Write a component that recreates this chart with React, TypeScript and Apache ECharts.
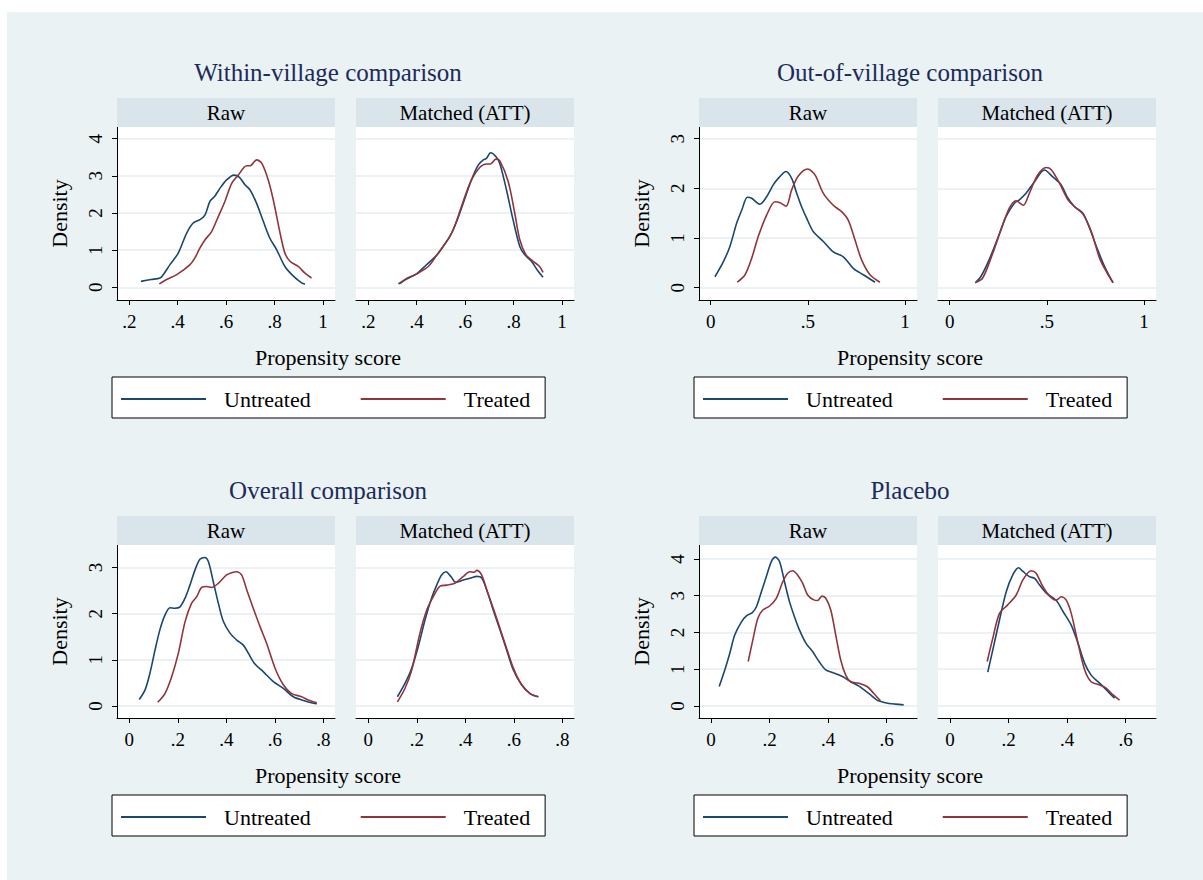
import React, { useEffect, useRef } from "react";
import * as echarts from "echarts";

const UNTREATED_COLOR = "#1a476f";
const TREATED_COLOR = "#90353b";
const FONT = "'Liberation Serif', 'Times New Roman', serif";

// ---------- Data (propensity score, density) ----------
const withinRawUntreated = [[.248,.16],[.290,.21],[.327,.25],[.340,.34],[.368,.61],[.402,.92],[.437,1.46],[.464,1.73],[.492,1.82],[.513,1.95],[.533,2.31],[.554,2.46],[.575,2.67],[.602,2.89],[.632,3.02],[.655,2.96],[.678,2.76],[.699,2.62],[.726,2.26],[.754,1.77],[.781,1.32],[.809,1.01],[.843,.56],[.878,.30],[.912,.12],[.926,.09]];
const withinRawTreated = [[.324,.09],[.354,.21],[.396,.34],[.451,.61],[.471,.79],[.492,1.06],[.513,1.28],[.540,1.50],[.568,1.91],[.595,2.31],[.623,2.80],[.650,3.02],[.685,3.27],[.699,3.27],[.726,3.43],[.747,3.34],[.774,2.89],[.795,2.35],[.823,1.46],[.843,.92],[.864,.70],[.898,.56],[.926,.38],[.953,.25]];
const withinMatchedUntreated = [[.328,.09],[.358,.22],[.399,.36],[.441,.61],[.482,.86],[.509,1.10],[.537,1.37],[.565,1.77],[.592,2.26],[.626,2.89],[.654,3.29],[.675,3.43],[.688,3.47],[.705,3.62],[.727,3.52],[.743,3.34],[.771,2.62],[.798,1.82],[.826,1.10],[.846,.88],[.874,.70],[.902,.43],[.922,.27]];
const withinMatchedTreated = [[.324,.09],[.358,.24],[.399,.36],[.448,.56],[.482,.86],[.523,1.23],[.551,1.55],[.592,2.31],[.626,2.89],[.661,3.23],[.688,3.32],[.705,3.32],[.727,3.45],[.743,3.41],[.778,2.85],[.805,2.00],[.826,1.28],[.851,.88],[.881,.70],[.908,.56],[.922,.40]];

const outRawUntreated = [[.022,.22],[.065,.52],[.099,.83],[.134,1.30],[.160,1.56],[.189,1.82],[.211,1.80],[.254,1.68],[.288,1.83],[.322,2.07],[.348,2.20],[.388,2.34],[.417,2.20],[.443,1.90],[.468,1.63],[.494,1.40],[.528,1.13],[.580,.93],[.631,.72],[.683,.62],[.734,.39],[.786,.26],[.846,.11]];
const outRawTreated = [[.137,.11],[.177,.26],[.211,.59],[.245,1.03],[.288,1.46],[.331,1.73],[.357,1.71],[.388,1.64],[.417,1.97],[.451,2.25],[.499,2.39],[.537,2.27],[.580,1.90],[.631,1.66],[.674,1.53],[.708,1.36],[.743,.96],[.777,.56],[.820,.26],[.871,.11]];
const outMatchedUntreated = [[.134,.11],[.160,.22],[.203,.56],[.247,.99],[.290,1.43],[.333,1.70],[.359,1.77],[.393,1.90],[.436,2.13],[.488,2.37],[.531,2.23],[.574,2.07],[.609,1.80],[.643,1.63],[.686,1.50],[.721,1.19],[.755,.83],[.798,.42],[.841,.10]];
const outMatchedTreated = [[.131,.10],[.169,.19],[.212,.59],[.264,1.16],[.307,1.60],[.341,1.75],[.379,1.66],[.410,1.90],[.453,2.27],[.497,2.42],[.522,2.38],[.566,2.10],[.609,1.77],[.643,1.63],[.686,1.48],[.729,1.13],[.772,.59],[.807,.32],[.841,.10]];

const overallRawUntreated = [[.041,.14],[.065,.35],[.085,.71],[.106,1.21],[.126,1.65],[.147,1.97],[.168,2.13],[.188,2.12],[.209,2.15],[.230,2.34],[.250,2.62],[.271,2.95],[.291,3.18],[.312,3.22],[.326,3.13],[.346,2.70],[.367,2.23],[.388,1.83],[.415,1.58],[.443,1.43],[.470,1.32],[.491,1.14],[.518,.91],[.553,.74],[.594,.53],[.635,.38],[.676,.20],[.718,.12],[.759,.06],[.773,.05]];
const overallRawTreated = [[.117,.08],[.147,.27],[.175,.64],[.202,1.14],[.230,1.83],[.257,2.23],[.278,2.37],[.298,2.57],[.319,2.59],[.340,2.57],[.367,2.66],[.401,2.84],[.422,2.89],[.443,2.91],[.463,2.84],[.484,2.52],[.511,2.12],[.539,1.72],[.566,1.36],[.601,.82],[.635,.46],[.669,.27],[.711,.20],[.738,.13],[.773,.07]];
const overallMatchedUntreated = [[.120,.20],[.151,.49],[.179,.82],[.206,1.29],[.234,1.87],[.261,2.34],[.282,2.62],[.302,2.84],[.320,2.91],[.340,2.81],[.361,2.68],[.392,2.73],[.426,2.78],[.447,2.81],[.467,2.78],[.488,2.52],[.515,2.08],[.543,1.65],[.570,1.22],[.598,.78],[.632,.46],[.667,.27],[.701,.20]];
const overallMatchedTreated = [[.120,.09],[.151,.38],[.179,.78],[.213,1.58],[.241,2.08],[.268,2.37],[.296,2.60],[.323,2.62],[.357,2.66],[.392,2.81],[.419,2.91],[.436,2.90],[.447,2.94],[.467,2.84],[.488,2.52],[.515,2.12],[.543,1.68],[.570,1.25],[.598,.82],[.632,.46],[.667,.27],[.701,.20]];

const placeboRawUntreated = [[.028,.53],[.047,.98],[.064,1.43],[.081,1.93],[.104,2.29],[.121,2.45],[.141,2.54],[.155,2.70],[.172,3.11],[.189,3.52],[.206,3.93],[.220,4.05],[.234,3.93],[.251,3.38],[.268,2.84],[.285,2.43],[.302,2.07],[.324,1.71],[.347,1.48],[.369,1.21],[.392,.98],[.415,.91],[.449,.80],[.477,.66],[.505,.54],[.539,.34],[.567,.16],[.595,.09],[.629,.05],[.658,.03]];
const placeboRawTreated = [[.127,1.21],[.144,1.84],[.160,2.39],[.177,2.61],[.200,2.72],[.223,2.93],[.245,3.38],[.262,3.61],[.279,3.68],[.296,3.56],[.313,3.34],[.330,3.02],[.353,2.88],[.364,2.87],[.379,2.99],[.392,2.93],[.409,2.61],[.426,1.93],[.443,1.25],[.460,.84],[.477,.66],[.505,.62],[.533,.53],[.556,.34],[.579,.14]];
const placeboMatchedUntreated = [[.129,.92],[.146,1.52],[.169,2.34],[.192,3.11],[.214,3.56],[.234,3.76],[.249,3.66],[.271,3.52],[.289,3.47],[.306,3.29],[.329,3.07],[.363,2.87],[.386,2.57],[.414,2.20],[.437,1.71],[.460,1.16],[.482,.84],[.511,.62],[.540,.39],[.562,.21]];
const placeboMatchedTreated = [[.127,1.21],[.146,1.84],[.169,2.52],[.197,2.75],[.226,3.02],[.249,3.43],[.277,3.68],[.294,3.61],[.317,3.25],[.340,2.99],[.363,2.88],[.380,2.97],[.397,2.88],[.414,2.52],[.437,1.71],[.460,.98],[.482,.66],[.511,.57],[.534,.48],[.557,.30],[.579,.16]];

// ---------- Tick labels ----------
const withinXTicks = [0.2, 0.4, 0.6, 0.8, 1];
const withinYTicks = [0, 1, 2, 3, 4];
const outXTicks = [0, 0.5, 1];
const outYTicks = [0, 1, 2, 3];
const overallXTicks = [0, 0.2, 0.4, 0.6, 0.8];
const overallYTicks = [0, 1, 2, 3];
const placeboXTicks = [0, 0.2, 0.4, 0.6];
const placeboYTicks = [0, 1, 2, 3, 4];

const panelTitles = ["Within-village comparison", "Out-of-village comparison", "Overall comparison", "Placebo"];
const subTitles = ["Raw", "Matched (ATT)"];
const seriesNames = ["Untreated", "Treated"];
const xTitle = "Propensity score";
const yTitle = "Density";

// ---------- Layout ----------
const panels = [
  { title: panelTitles[0], ox: 0, oy: 0, xr: [0.149, 1.050], yr: [-0.342, 4.315], xt: withinXTicks, yt: withinYTicks,
    data: [[withinRawUntreated, withinRawTreated], [withinMatchedUntreated, withinMatchedTreated]] },
  { title: panelTitles[1], ox: 582, oy: 0, xr: [-0.060, 1.062], yr: [-0.248, 3.235], xt: outXTicks, yt: outYTicks,
    data: [[outRawUntreated, outRawTreated], [outMatchedUntreated, outMatchedTreated]] },
  { title: panelTitles[2], ox: 0, oy: 418, xr: [-0.0507, 0.848], yr: [-0.26, 3.49], xt: overallXTicks, yt: overallYTicks,
    data: [[overallRawUntreated, overallRawTreated], [overallMatchedUntreated, overallMatchedTreated]] },
  { title: panelTitles[3], ox: 582, oy: 418, xr: [-0.041, 0.7035], yr: [-0.327, 4.38], xt: placeboXTicks, yt: placeboYTicks,
    data: [[placeboRawUntreated, placeboRawTreated], [placeboMatchedUntreated, placeboMatchedTreated]] },
];

const fmtX = (v: number) => {
  const r = Math.round(v * 10) / 10;
  if (r === 0) return "0";
  if (r === 1) return "1";
  return String(r).replace(/^0\./, ".");
};

function buildOption() {
  const grid: any[] = [];
  const xAxis: any[] = [];
  const yAxis: any[] = [];
  const series: any[] = [];
  const legend: any[] = [];
  const graphic: any[] = [];
  const colors = [UNTREATED_COLOR, TREATED_COLOR];

  panels.forEach((p) => {
    graphic.push({
      type: "text", x: 328 + p.ox, y: 72 + p.oy, z: 10,
      style: { text: p.title, font: `25px ${FONT}`, fill: "#1c2b5a", align: "center", verticalAlign: "middle", textAlign: "center", textVerticalAlign: "middle" },
    });
    graphic.push({
      type: "text", x: 328 + p.ox, y: 357 + p.oy, z: 10,
      style: { text: xTitle, font: `22px ${FONT}`, fill: "#000", align: "center", verticalAlign: "middle", textAlign: "center", textVerticalAlign: "middle" },
    });
    for (let j = 0; j < 2; j++) {
      const left = 117 + p.ox + j * 239;
      const top = 127 + p.oy;
      const gi = grid.length;
      grid.push({ left, top, width: 218, height: 173, show: true, backgroundColor: "#ffffff", borderWidth: 0, containLabel: false });
      graphic.push({ type: "rect", z: 5, shape: { x: left, y: top - 29, width: 218, height: 29 }, style: { fill: "#d9e5eb" } });
      graphic.push({
        type: "text", z: 10, x: left + 109, y: top - 14.5,
        style: { text: subTitles[j], font: `21px ${FONT}`, fill: "#000", align: "center", verticalAlign: "middle", textAlign: "center", textVerticalAlign: "middle" },
      });
      xAxis.push({
        type: "value", gridIndex: gi, min: p.xr[0], max: p.xr[1],
        axisLine: { show: true, onZero: false, lineStyle: { color: "#000", width: 1 } },
        axisTick: { show: true, length: 5, customValues: p.xt, lineStyle: { color: "#000", width: 1 } },
        axisLabel: { customValues: p.xt, formatter: fmtX, fontFamily: FONT, fontSize: 19, color: "#000", margin: 12 },
        splitLine: { show: false },
      });
      yAxis.push({
        type: "value", gridIndex: gi, min: p.yr[0], max: p.yr[1],
        axisLine: { show: j === 0, onZero: false, lineStyle: { color: "#000", width: 1 } },
        axisTick: { show: j === 0, length: 5, customValues: p.yt, lineStyle: { color: "#000", width: 1 } },
        axisLabel: { show: j === 0, customValues: p.yt, rotate: 90, fontFamily: FONT, fontSize: 19, color: "#000", margin: 12 },
        splitLine: { show: true, lineStyle: { color: "#e6eef1", width: 1.5 } },
        name: j === 0 ? yTitle : "",
        nameLocation: "middle", nameGap: 47, nameRotate: 90,
        nameTextStyle: { fontFamily: FONT, fontSize: 22, color: "#000" },
      });
      p.data[j].forEach((d, k) => {
        series.push({
          type: "line", name: seriesNames[k], xAxisIndex: gi, yAxisIndex: gi, data: d,
          symbol: "none", showSymbol: false, smooth: 0.3,
          lineStyle: { color: colors[k], width: 1.6 }, itemStyle: { color: colors[k] },
        });
      });
    }
    legend.push({
      left: 112 + p.ox, top: 377 + p.oy, orient: "horizontal",
      data: seriesNames.map((n) => ({ name: n })),
      icon: "rect",
      itemWidth: 85, itemHeight: 2, itemGap: 50,
      padding: [9, 15, 6, 9],
      borderColor: "#000", borderWidth: 1, backgroundColor: "#fff",
      selectedMode: false,
      textStyle: { fontFamily: FONT, fontSize: 22, color: "#000", lineHeight: 26, padding: [0, 0, 0, 13] },
    });
  });

  return { animation: false, grid, xAxis, yAxis, series, legend, graphic };
}

export default function App() {
  const ref = useRef<HTMLDivElement>(null);
  useEffect(() => {
    if (!ref.current) return;
    const chart = echarts.init(ref.current, undefined, { renderer: "svg" });
    chart.setOption(buildOption() as any);
    return () => chart.dispose();
  }, []);
  return (
    <div style={{ position: "absolute", left: 0, top: 0, width: 1203, height: 880, background: "#fff" }}>
      <div style={{ position: "absolute", left: 7, top: 12, width: 1196, height: 868, background: "#eaf2f3" }} />
      <div ref={ref} style={{ position: "absolute", left: 0, top: 0, width: 1203, height: 880 }} />
    </div>
  );
}
